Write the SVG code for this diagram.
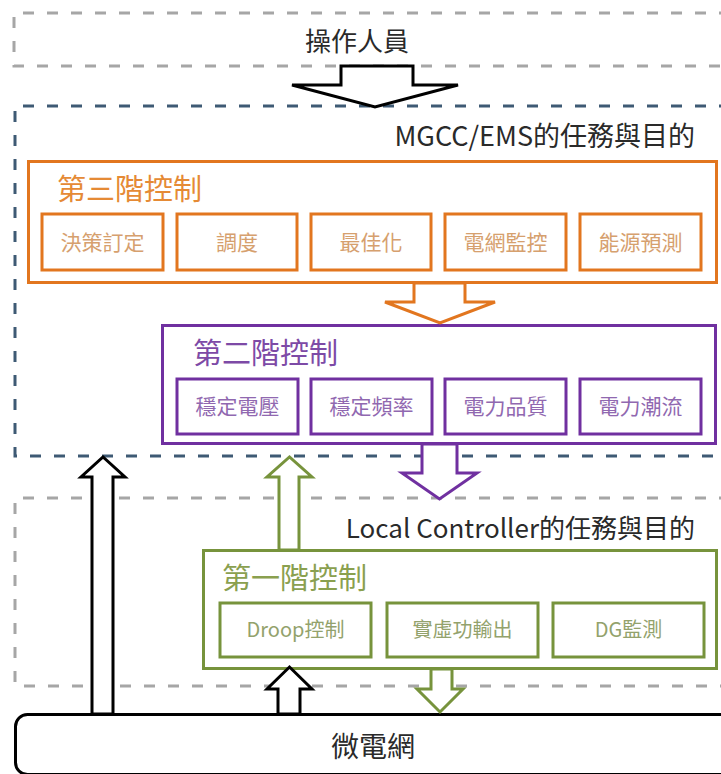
<svg xmlns="http://www.w3.org/2000/svg" width="721" height="774" viewBox="0 0 721 774">
<style>
text{font-family:"Noto Sans CJK TC","Noto Sans CJK SC",sans-serif}
.gd{fill:none;stroke:#a6a6a6;stroke-width:3;stroke-dasharray:11 13}
.bd{fill:none;stroke:#3e5a74;stroke-width:3;stroke-dasharray:11 13}
.or{fill:#fff;stroke:#e2761f;stroke-width:3}
.pu{fill:#fff;stroke:#7030a0;stroke-width:3}
.gr{fill:#fff;stroke:#77933c;stroke-width:3}
.bk{fill:#fff;stroke:#000;stroke-width:3}
.t-or{fill:#e58a35;font-size:29px}
.s-or{fill:#d6a06e;font-size:21px;text-anchor:middle}
.t-pu{fill:#7d4aa6;font-size:29px}
.s-pu{fill:#9068b0;font-size:21px;text-anchor:middle}
.t-gr{fill:#8aa04f;font-size:29px}
.s-gr{fill:#93a26c;font-size:20px;text-anchor:middle}
.lbl{fill:#2a2a2a;font-size:26px}
</style>
<rect width="721" height="774" fill="#fff"/>

<g id="operator">
<path class="gd" d="M730,13 H14 V66 H730"/>
<text class="lbl" x="357" y="51" text-anchor="middle" fill="#333">操作人員</text>
</g>

<g id="mgcc">
<path class="bd" d="M730,106 H15 V456 H730"/>
<text class="lbl" x="695" y="146" text-anchor="end" style="font-size:27px">MGCC/EMS的任務與目的</text>
</g>

<g id="local">
<path class="gd" d="M730,498 H15 V686 H730"/>
<text class="lbl" x="695" y="538" text-anchor="end">Local Controller的任務與目的</text>
</g>

<g id="tier3">
<rect class="or" x="28.5" y="161.5" width="688" height="121"/>
<text class="t-or" x="57" y="200">第三階控制</text>
<rect class="or" x="42" y="214" width="121" height="56"/>
<text class="s-or" x="102.5" y="250">決策訂定</text>
<rect class="or" x="177" y="214" width="120" height="56"/>
<text class="s-or" x="237" y="250">調度</text>
<rect class="or" x="311" y="214" width="120" height="56"/>
<text class="s-or" x="371" y="250">最佳化</text>
<rect class="or" x="445" y="214" width="121" height="56"/>
<text class="s-or" x="505.5" y="250">電網監控</text>
<rect class="or" x="580" y="214" width="121" height="56"/>
<text class="s-or" x="640.5" y="250">能源預測</text>
</g>

<g id="tier2">
<rect class="pu" x="162.5" y="325.5" width="553" height="118"/>
<text class="t-pu" x="193" y="364">第二階控制</text>
<rect class="pu" x="177" y="379" width="121" height="55"/>
<text class="s-pu" x="237.5" y="414">穩定電壓</text>
<rect class="pu" x="311" y="379" width="121" height="55"/>
<text class="s-pu" x="371.5" y="414">穩定頻率</text>
<rect class="pu" x="445" y="379" width="121" height="55"/>
<text class="s-pu" x="505.5" y="414">電力品質</text>
<rect class="pu" x="580" y="379" width="121" height="55"/>
<text class="s-pu" x="640.5" y="414">電力潮流</text>
</g>

<g id="tier1">
<rect class="gr" x="203.5" y="550.5" width="513" height="118"/>
<text class="t-gr" x="222" y="589">第一階控制</text>
<rect class="gr" x="220" y="603" width="151" height="54"/>
<text class="s-gr" x="295.5" y="637">Droop控制</text>
<rect class="gr" x="387" y="603" width="151" height="54"/>
<text class="s-gr" x="462.5" y="637">實虛功輸出</text>
<rect class="gr" x="553" y="603" width="151" height="54"/>
<text class="s-gr" x="628.5" y="637">DG監測</text>
</g>

<g id="microgrid">
<rect class="bk" x="15.5" y="714.5" width="730" height="60" rx="12"/>
<text class="lbl" x="373" y="757" text-anchor="middle" fill="#333" style="font-size:28px">微電網</text>
</g>

<g id="connectors">
<polygon class="bk" points="341,66 413,66 413,85 458,85 375,107 292,85 341,85"/>
<polygon class="or" points="414,283 465,283 465,302 495,302 440,323 385,302 414,302"/>
<polygon class="pu" points="422,444 457,444 457,473 477,473 439.5,499 402,473 422,473"/>
<polygon class="bk" points="92,714 92,477 81,477 103,457 125,477 113,477 113,714"/>
<polygon class="gr" points="279,550 279,477 267,477 289.5,457 312,477 299,477 299,550"/>
<polygon class="bk" points="278,714 278,689 267,689 289.5,667 312,689 300,689 300,714"/>
<polygon class="gr" points="431,669 452,669 452,689 463,689 440,712 417,689 431,689"/>
</g>
</svg>
